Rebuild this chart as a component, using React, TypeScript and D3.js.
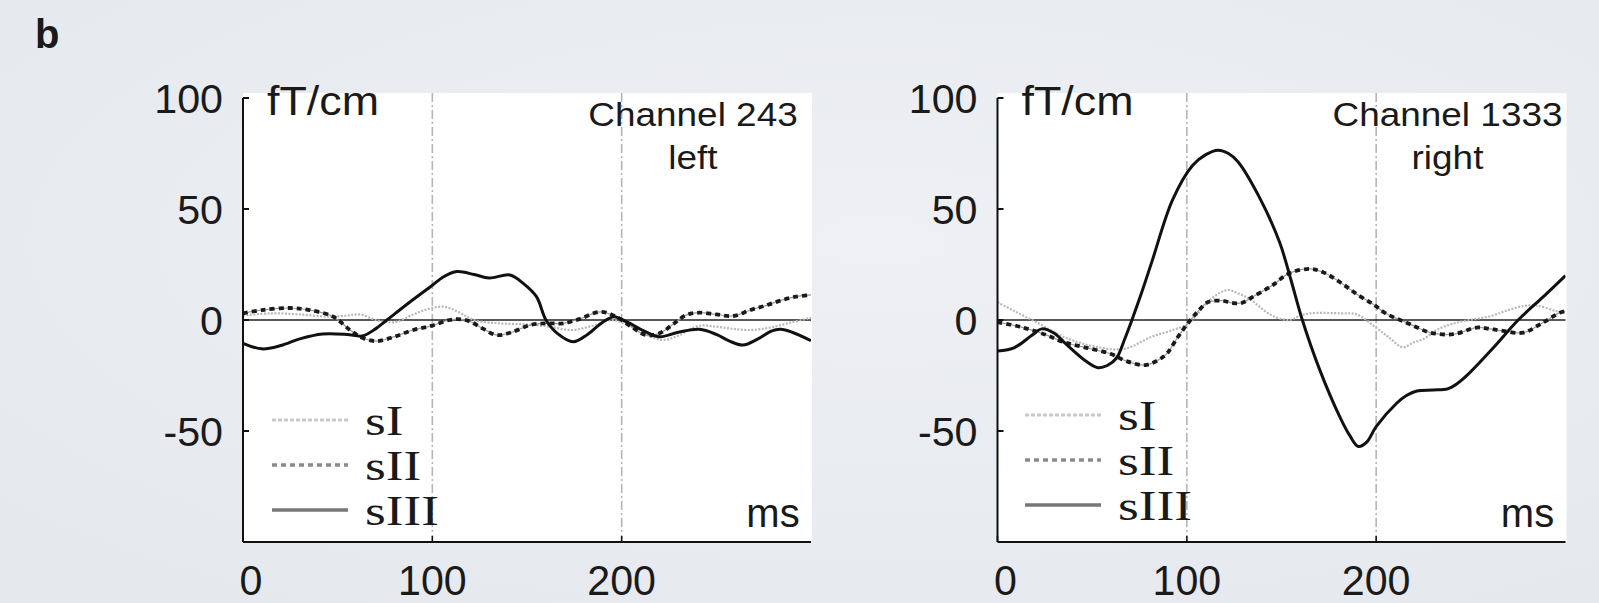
import React from "react";
import * as d3 from "d3";

type Pt = [number, number];

const xTicks = [0, 100, 200];
const yTicks = [100, 50, 0, -50];
const vLines = [100, 200];
const seriesNames = ["sI", "sII", "sIII"];

// Channel 243 (left)
const leftSI: Pt[] = [[0,2],[15,3],[30,2.5],[45,1.5],[55,2],[62,2.5],[70,0],[80,-1],[90,2.5],[98,5],[106,6],[114,3.5],[122,0],[135,-1.5],[150,-2],[162,-3],[174,-4.5],[185,-2.5],[195,0],[205,-3],[214,-7],[222,-9],[230,-7],[241,-2.6],[250,-3],[259,-4],[268,-4.5],[278,-3.5],[290,-1],[300,1]];
const leftSII: Pt[] = [[0,3],[10,4.5],[25,5.4],[35,4.5],[47.6,1.5],[56.5,-4.5],[63,-8],[70.6,-9.5],[80,-7.5],[90,-4.5],[100,-2.5],[109,0],[115,0.3],[120,-0.7],[127,-4],[134,-6.8],[142,-5.5],[151.6,-2.3],[160,-1.5],[169,-1.5],[178,0.5],[188.6,3.7],[197,1.5],[205,-3],[213,-6.8],[220,-6],[227,-2],[234,2.2],[241,3.3],[250,2.5],[259,1.8],[268,4.5],[276,6.5],[283.7,8.7],[292,10.5],[300,11.3]];
const leftSIII: Pt[] = [[0,-10.5],[10,-13],[20,-11.5],[30,-8.5],[42,-6.3],[55,-6.5],[63,-7.2],[70,-4],[76,0],[88,8],[99,15],[106,19.5],[113,21.8],[122,20.5],[130,18.9],[141,20.3],[148,16.5],[155,10.5],[160,0],[166,-6],[174.5,-9.8],[182,-6.5],[190,-1],[196,1.5],[203,-1],[212,-5],[220,-7.5],[230,-5.5],[241,-4.2],[250,-6.5],[257,-9.5],[264,-11.3],[272,-8.5],[279,-5],[284,-4.2],[290,-5.5],[300,-9.3]];

// Channel 1333 (right)
const rightSI: Pt[] = [[0,8],[9,4],[21.6,-1.5],[36,-8],[51.5,-12],[67,-13],[81.5,-7.5],[92,-4.7],[101,-1.5],[111,8],[117,12],[122,13.5],[127,12],[132.6,9.8],[145,2],[154,0],[160,2],[165,3],[181,3],[189.8,2.5],[200,-3.5],[207,-8],[214,-12.3],[220,-10],[225,-8.6],[233,-4],[243,-1.1],[260.6,1.8],[270,4.5],[277.7,6.3],[285,6.5],[294.6,4.1],[300,3]];
const rightSII: Pt[] = [[0,-1],[11.6,-3],[25,-6.5],[35,-10],[46,-12.3],[60,-15.3],[68,-18.5],[78,-20.3],[85,-18],[89.6,-15],[95,-8],[101,-1],[106,4],[111,8],[118.5,8.7],[124,7.7],[129,7.7],[135,10.5],[145,15.5],[154,21],[165,23],[172,21.5],[181,17],[190,11.5],[198.6,7],[205,3],[216,-1.2],[222,-3.5],[228.5,-5.7],[240.8,-6.4],[253,-3.4],[260,-4],[267,-4.9],[277.7,-5.7],[288,-1.2],[297,3.3],[300,4]];
const rightSIII: Pt[] = [[0,-14],[9,-12.4],[18,-7],[23.4,-4],[30,-6],[36,-10.7],[46.6,-18.5],[53,-21.5],[58,-20.5],[63,-17],[67,-9],[71,0],[76,12],[81.6,26.4],[92.4,54],[103,69.6],[110,74.5],[116.5,76.5],[122,75],[127,71.3],[138,55.8],[149,35],[155,18],[161,0],[170,-22],[181,-44],[186,-52],[190.6,-57],[195,-55],[200,-48],[210.8,-37.5],[216,-34],[221.5,-32],[230,-31.5],[237.7,-31],[243,-28.5],[248.5,-24.5],[262,-12.4],[275,0],[288.8,10.9],[300,20]];

const panels = [
  { id: "L", x0: 243, x1: 811, title: "Channel 243", sub: "left", series: [leftSI, leftSII, leftSIII], legX: 272, legY: 420 },
  { id: "R", x0: 997.5, x1: 1565.5, title: "Channel 1333", sub: "right", series: [rightSI, rightSII, rightSIII], legX: 1025, legY: 415 },
];

const SANS = "'Liberation Sans', Arial, Helvetica, sans-serif";
const SERIF = "'Liberation Serif', 'Times New Roman', serif";

function STxt(props: { x: number; y: number; size: number; anchor?: string; sx?: number; children: React.ReactNode; family?: string; weight?: string }) {
  const { x, y, size, anchor = "start", sx = 1, children, family = SANS, weight = "normal" } = props;
  return (
    <text transform={`translate(${x},${y}) scale(${sx},1)`} fontFamily={family} fontSize={size} textAnchor={anchor} fill="#1a1a1a" fontWeight={weight}>
      {children}
    </text>
  );
}

function Panel({ p }: { p: typeof panels[number] }) {
  const x = d3.scaleLinear().domain([0, 300]).range([p.x0, p.x1]);
  const y = d3.scaleLinear().domain([-100, 100]).range([542, 98]);
  const line = d3.line<Pt>().x((d) => x(d[0])).y((d) => y(d[1])).curve(d3.curveCatmullRom.alpha(0.5));
  const clip = `clip${p.id}`;
  return (
    <g>
      <defs>
        <clipPath id={clip}>
          <rect x={p.x0} y={93} width={p.x1 - p.x0} height={542 - 93} />
        </clipPath>
      </defs>
      <rect x={p.x0} y={93} width={p.x1 - p.x0 + 1} height={542 - 93} fill="#ffffff" />
      {vLines.map((v) => (
        <line key={v} x1={x(v)} x2={x(v)} y1={93} y2={542} stroke="#b5b5b5" strokeWidth={1.6} strokeDasharray="9,3,2,3" />
      ))}
      <line x1={p.x0} x2={p.x1} y1={y(0)} y2={y(0)} stroke="#222" strokeWidth={1.6} />
      <g clipPath={`url(#${clip})`}>
        <path d={line(p.series[0]) || ""} fill="none" stroke="#b8b8b8" strokeWidth={2.2} strokeDasharray="2,1.5" />
        <path d={line(p.series[1]) || ""} fill="none" stroke="#999" strokeWidth={1.2} />
        <path d={line(p.series[1]) || ""} fill="none" stroke="#1a1a1a" strokeWidth={3.8} strokeDasharray="5,4" />
        <path d={line(p.series[2]) || ""} fill="none" stroke="#111" strokeWidth={3} />
      </g>
      {/* axes */}
      <line x1={p.x0} x2={p.x0} y1={y(100)} y2={542} stroke="#111" strokeWidth={2} />
      <line x1={p.x0} x2={p.x1} y1={542} y2={542} stroke="#111" strokeWidth={2} />
      {yTicks.map((t) => (
        <line key={t} x1={p.x0} x2={p.x0 + 6} y1={y(t)} y2={y(t)} stroke="#111" strokeWidth={2} />
      ))}
      {xTicks.map((t) => (
        <line key={t} x1={x(t)} x2={x(t)} y1={542} y2={536} stroke="#111" strokeWidth={1.5} />
      ))}
      {yTicks.map((t) => (
        <STxt key={t} x={p.x0 - 20} y={y(t) + 15} size={40} anchor="end" sx={1.03}>
          {String(t)}
        </STxt>
      ))}
      {xTicks.map((t) => (
        <STxt key={t} x={x(t) + (t === 0 ? 8 : 0)} y={595} size={42} anchor="middle" sx={0.98}>
          {String(t)}
        </STxt>
      ))}
      <STxt x={p.x0 + 24} y={115} size={40} sx={1.12}>fT/cm</STxt>
      <STxt x={p.x1 - 118} y={126} size={33} anchor="middle" sx={1.12}>{p.title}</STxt>
      <STxt x={p.x1 - 118} y={169} size={33} anchor="middle" sx={1.12}>{p.sub}</STxt>
      <STxt x={p.x1 - 38} y={527} size={40} anchor="middle">ms</STxt>
      {/* legend */}
      {seriesNames.map((n, i) => {
        const ly = p.legY + i * 45;
        const st =
          i === 0
            ? { stroke: "#c9c9c9", w: 3, dash: "4,2" }
            : i === 1
            ? { stroke: "#8a8a8a", w: 3.5, dash: "5,4" }
            : { stroke: "#777", w: 3.5, dash: "" };
        return (
          <g key={n}>
            <line x1={p.legX} x2={p.legX + 76} y1={ly} y2={ly} stroke={st.stroke} strokeWidth={st.w} strokeDasharray={st.dash || undefined} />
            <STxt x={p.legX + 93} y={ly + 15} size={43} family={SERIF} sx={1.24}>
              {n}
            </STxt>
          </g>
        );
      })}
    </g>
  );
}

export default function App() {
  return (
    <svg width={1599} height={603} style={{ position: "absolute", left: 0, top: 0, display: "block" }}>
      <defs>
        <radialGradient id="bg" cx="55%" cy="40%" r="75%">
          <stop offset="0%" stopColor="#eef0f4" />
          <stop offset="100%" stopColor="#e5e8ed" />
        </radialGradient>
      </defs>
      <rect x={0} y={0} width={1599} height={603} fill="url(#bg)" />
      <STxt x={35} y={48} size={40} weight="bold">b</STxt>
      {panels.map((p) => (
        <Panel key={p.id} p={p} />
      ))}
    </svg>
  );
}
